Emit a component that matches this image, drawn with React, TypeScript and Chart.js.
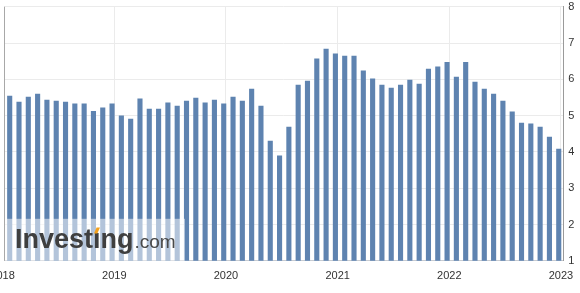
import { useEffect, useRef } from "react";
import { Chart, registerables } from "chart.js";

Chart.register(...registerables);

// Year tick labels (x axis boundaries)
const yearLabels = ["2018", "2019", "2020", "2021", "2022", "2023"];

// Monthly values, Jan..Dec
const values2018 = [5.55, 5.38, 5.52, 5.6, 5.44, 5.41, 5.38, 5.33, 5.33, 5.13, 5.22, 5.33];
const values2019 = [5.0, 4.91, 5.47, 5.19, 5.19, 5.36, 5.27, 5.41, 5.49, 5.36, 5.44, 5.33];
const values2020 = [5.52, 5.41, 5.74, 5.27, 4.31, 3.9, 4.69, 5.85, 5.96, 6.57, 6.84, 6.71];
const values2021 = [6.65, 6.65, 6.24, 6.02, 5.85, 5.77, 5.85, 5.99, 5.88, 6.29, 6.35, 6.48];
const values2022 = [6.07, 6.48, 5.93, 5.74, 5.6, 5.41, 5.11, 4.8, 4.78, 4.69, 4.42, 4.09];

// Release falls late in each month (fraction of a month after the month start)
const releaseOffset = 0.76;

const allValues = [...values2018, ...values2019, ...values2020, ...values2021, ...values2022];

const BAR = "rgb(94,131,176)";
const GRID = "#ebebeb";
const FONT = "'Liberation Sans', Arial, sans-serif";

export default function App() {
  const ref = useRef<HTMLCanvasElement>(null);

  useEffect(() => {
    document.body.style.margin = "0";
    const canvas = ref.current!;

    const leftBorder = {
      id: "leftBorder",
      afterDraw(chart: any) {
        const { ctx, chartArea } = chart;
        ctx.save();
        ctx.strokeStyle = "#a8a8a8";
        ctx.lineWidth = 1;
        const x = Math.round(chartArea.left) + 0.5;
        ctx.beginPath();
        ctx.moveTo(x, chartArea.top);
        ctx.lineTo(x, chartArea.bottom);
        ctx.stroke();
        ctx.restore();
      },
    };

    const watermark = {
      id: "watermark",
      afterDatasetsDraw(chart: any) {
        const { ctx, chartArea } = chart;
        const bx = chartArea.left + 0.7;
        const by = chartArea.bottom - 42;
        ctx.save();
        ctx.fillStyle = "rgba(255,255,255,0.53)";
        ctx.fillRect(bx, by, 180, 42);
        const tx = bx + 10;
        const ty = by + 29.3;
        ctx.font = `bold 27px ${FONT}`;
        ctx.fillStyle = "#3f3f3f";
        ctx.textBaseline = "alphabetic";
        ctx.textAlign = "left";
        const word = "Invest\u0131ng";
        ctx.fillText(word, tx, ty);
        const ix = tx + ctx.measureText("Invest").width;
        const iw = ctx.measureText("\u0131").width;
        const cx = ix + iw / 2;
        ctx.fillStyle = "#f4a11c";
        ctx.beginPath();
        ctx.moveTo(cx - 2.8, ty - 14.5);
        ctx.lineTo(cx + 0.6, ty - 14.5);
        ctx.lineTo(cx + 3.2, ty - 20.5);
        ctx.lineTo(cx - 0.2, ty - 20.5);
        ctx.closePath();
        ctx.fill();
        const wEnd = tx + ctx.measureText(word).width;
        ctx.font = `19px ${FONT}`;
        ctx.fillStyle = "#4a4a4a";
        ctx.fillText(".com", wEnd + 1, ty);
        ctx.restore();
      },
    };

    const chart = new Chart(canvas, {
      type: "bar",
      data: {
        datasets: [
          {
            data: allValues.map((v, i) => ({ x: i + releaseOffset, y: v })),
            backgroundColor: BAR,
            borderWidth: 0,
            categoryPercentage: 1,
            barPercentage: 0.55,
          } as any,
        ],
      },
      options: {
        animation: false,
        responsive: false,
        devicePixelRatio: 1,
        layout: { padding: { left: 4.3, top: 6.7, right: 0, bottom: 0 } },
        plugins: { legend: { display: false }, tooltip: { enabled: false } },
        scales: {
          x: {
            type: "linear",
            offset: false,
            min: 0.18,
            max: 60.25,
            afterBuildTicks: (s: any) => {
              s.ticks = yearLabels.map((_, i) => ({ value: i * 12 }));
            },
            afterFit: (s: any) => {
              s.height = 32.2;
              s.paddingLeft = 0;
              s.paddingRight = 0;
            },
            ticks: {
              callback: (v: any) => yearLabels[Math.round(Number(v) / 12)],
              color: "#333",
              font: { family: FONT, size: 11 },
              padding: 9,
              maxRotation: 0,
              autoSkip: false,
            },
            grid: {
              offset: false,
              color: (c: any) => (c.tick && c.tick.value < 1 ? "rgba(0,0,0,0)" : GRID),
              drawTicks: false,
            },
            border: { color: "#c8ccd2" },
          },
          y: {
            position: "right",
            min: 1,
            max: 8,
            ticks: {
              stepSize: 1,
              padding: 5,
              color: "#333",
              font: { family: FONT, size: 11 },
            },
            grid: { color: GRID, drawTicks: false },
            border: { color: "#9a9a9a" },
            afterFit: (s: any) => {
              s.width = 16.7;
              s.paddingTop = 0;
              s.paddingBottom = 0;
            },
          },
        },
      } as any,
      plugins: [leftBorder, watermark],
    });
    return () => chart.destroy();
  }, []);

  return (
    <div style={{ width: 580, height: 293 }}>
      <canvas ref={ref} width={580} height={293} style={{ display: "block" }} />
    </div>
  );
}
